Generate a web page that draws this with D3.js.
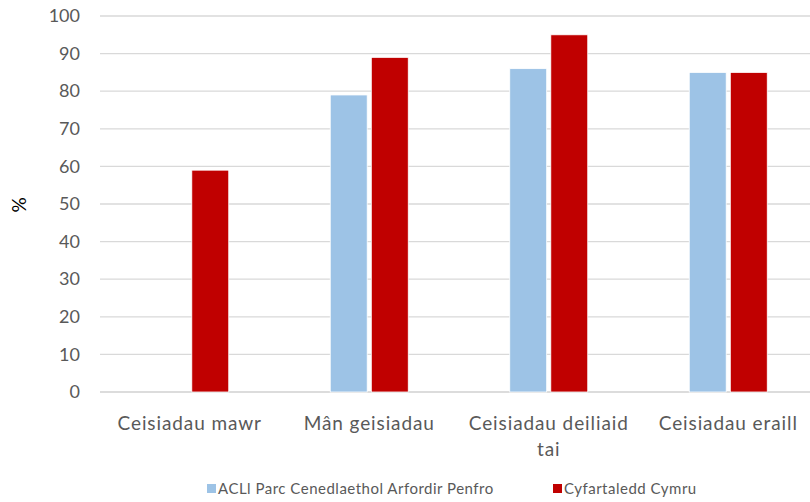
<!DOCTYPE html>
<html><head><meta charset="utf-8">
<script src="https://cdn.jsdelivr.net/npm/d3@7/dist/d3.min.js"></script>
<style>body{margin:0;background:#fff}svg{display:block}text{font-family:Lato,"Open Sans",sans-serif;fill:#595959}</style>
</head><body>
<svg id="c" width="810" height="502"></svg>
<script>
const categories = [["Ceisiadau mawr"],["Mân geisiadau"],["Ceisiadau deiliaid","tai"],["Ceisiadau eraill"]];
const seriesNames = ["ACLl Parc Cenedlaethol Arfordir Penfro","Cyfartaledd Cymru"];
const seriesColors = ["#9DC3E6","#C00000"];
const parcValues = [null,79,86,85];
const cymruValues = [59,89,95,85];
const yTicks = [0,10,20,30,40,50,60,70,80,90,100];

(function(){
const svg = d3.select("#c");
const pLeft=100, pRight=818, pTop=16, pBottom=392;
const x = d3.scaleBand().domain(d3.range(categories.length)).range([pLeft,pRight]).paddingInner(0).paddingOuter(0);
const y = d3.scaleLinear().domain([0,100]).range([pBottom,pTop]);
const sub = d3.scaleBand().domain([0,1]).range([0,78]).paddingInner(0.1);

svg.append("g").selectAll("line").data(yTicks).join("line")
  .attr("x1",pLeft).attr("x2",810).attr("y1",d=>y(d)).attr("y2",d=>y(d))
  .attr("stroke",d=>d===0?"#d0d0d0":"#d9d9d9").attr("stroke-width",1.3);

const yAxis = svg.append("g").attr("transform",`translate(${pLeft},0)`)
  .call(d3.axisLeft(y).tickValues(yTicks).tickSize(0).tickPadding(20));
yAxis.select(".domain").remove();
yAxis.selectAll("text").style("font-size","18px").style("fill","#595959").style("font-family","Lato,sans-serif");

svg.append("text").attr("transform","translate(26,205) rotate(-90)").attr("text-anchor","middle")
  .style("font-size","19px").style("fill","#000").text("%");

const series=[parcValues,cymruValues];
series.forEach((vals,si)=>{
  svg.append("g").selectAll("rect").data(vals.map((v,i)=>({v,i})).filter(d=>d.v!=null)).join("rect")
    .attr("x",d=>x(d.i)+x.bandwidth()/2-39+sub(si))
    .attr("width",sub.bandwidth())
    .attr("y",d=>y(d.v)).attr("height",d=>y(0)-y(d.v))
    .attr("fill",seriesColors[si]).attr("stroke","#fff").attr("stroke-width",0.8);
});

const xl = svg.append("g");
categories.forEach((lines,i)=>{
  const t = xl.append("text").attr("text-anchor","middle").style("font-size","19px").style("letter-spacing","0.9px")
    .attr("x",x(i)+x.bandwidth()/2).attr("y",430);
  lines.forEach((l,j)=>t.append("tspan").attr("x",x(i)+x.bandwidth()/2).attr("dy",j?26:0).text(l));
});

const lg = svg.append("g");
const lx=[207,553];
seriesNames.forEach((n,i)=>{
  lg.append("rect").attr("x",lx[i]).attr("y",484).attr("width",9).attr("height",9).attr("fill",seriesColors[i]);
  lg.append("text").attr("x",lx[i]+11).attr("y",494).style("font-size","15px").style("letter-spacing","0.5px").text(n);
});
})();
</script>
</body></html>
